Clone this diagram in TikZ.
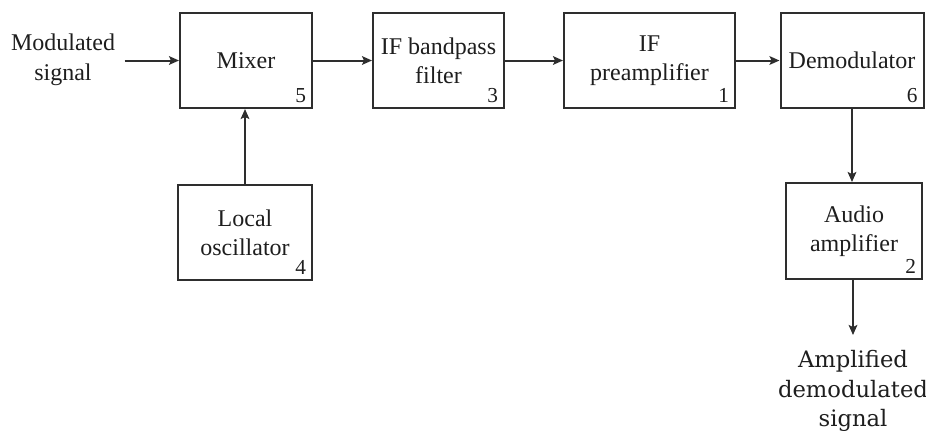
\documentclass[tikz,border=0pt]{standalone}
\usepackage{fontspec}
\setmainfont{Liberation Serif}
\newfontfamily\outfont{DejaVu Serif}
\usetikzlibrary{arrows.meta}
\definecolor{ink}{HTML}{1E1E1E}
\definecolor{edge}{HTML}{2E2E2E}
\tikzset{
  blk/.style={draw=edge,line width=1.5pt,minimum height=71.25pt,align=center,
    text=ink,font=\fontsize{18}{22}\selectfont},
  num/.style={anchor=south east,inner xsep=5pt,inner ysep=4.5pt,text=ink,
    font=\fontsize{16}{16}\selectfont},
  txt/.style={align=center,text=ink,font=\fontsize{18}{22.5}\selectfont},
  arr/.style={draw=edge,line width=1.5pt,-{Stealth[length=7.5pt,width=6.5pt,inset=1.5pt]}}
}

\begin{document}
\begin{tikzpicture}[x=0.75pt,y=-0.75pt]
  \useasboundingbox (0,0) rectangle (926,430);
  % main chain
  \node[blk,minimum width=99pt] (mix) at (246,60.5) {Mixer};
  \node[blk,minimum width=98.25pt] (bpf) at (438.5,60.5) {IF bandpass\\filter};
  \node[blk,minimum width=128.25pt] (pre) at (649.5,60.5) {IF\\preamplifier};
  \node[blk,minimum width=107.25pt] (dem) at (852,60.5) {Demodulator};
  \node[blk,minimum width=100.5pt] (lo) at (245,232.5) {Local\\oscillator};
  \node[blk,minimum width=102pt,minimum height=72pt] (aud) at (854,231) {Audio\\amplifier};
  % numbers
  \node[num] (n5) at (mix.south east) {5};
  \node[num] (n3) at (bpf.south east) {3};
  \node[num] (n1) at (pre.south east) {1};
  \node[num] (n6) at (dem.south east) {6};
  \node[num] (n4) at (lo.south east) {4};
  \node[num] (n2) at (aud.south east) {2};
  % in and out
  \node[txt,inner xsep=7pt] (src) at (63,59.5) {Modulated\\signal};
  \coordinate (sink) at (853,335);
  \node[txt,anchor=north,font=\outfont\fontsize{17}{22}\selectfont] (outp) at (853,346) {Amplified\\demodulated\\signal};
  % connectors
  \draw[arr] (src.east |- mix.west) -- (mix.west);
  \draw[arr] (mix.east) -- (bpf.west);
  \draw[arr] (bpf.east) -- (pre.west);
  \draw[arr] (pre.east) -- (dem.west);
  \draw[arr] (lo.north) -- (lo.north |- mix.south);
  \draw[arr] (dem.south) -- (dem.south |- aud.north);
  \draw[arr] (aud.south -| sink) -- (sink);
\end{tikzpicture}
\end{document}
